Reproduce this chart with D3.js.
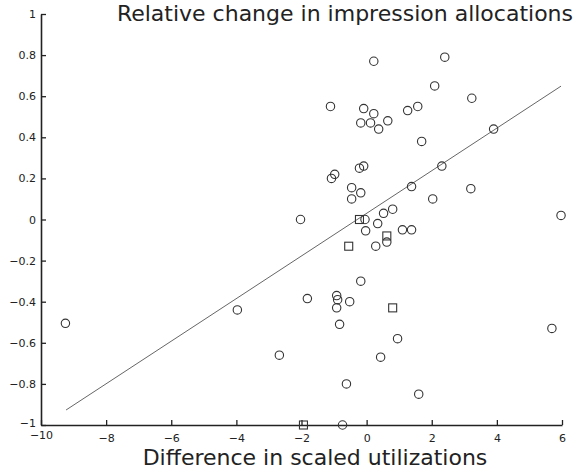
<!DOCTYPE html>
<html>
<head>
<meta charset="utf-8">
<script src="https://cdn.jsdelivr.net/npm/d3@7"></script>
<style>
  body { margin: 0; background: #fff; }
  text { font-family: "DejaVu Sans", sans-serif; }
</style>
</head>
<body>
<div id="chart"></div>
<script>
// data
var circleX = [-9.25, -3.97, -2.68, -2.03, -1.82, -1.11, -1.08, -0.98, -0.92, -0.89,
  -0.92, -0.83, -0.74, -0.62, -0.52, -0.46, -0.46, -0.22, -0.18, -0.18,
  -0.18, -0.09, -0.09, -0.05, -0.03, 0.12, 0.22, 0.22, 0.28, 0.34,
  0.37, 0.43, 0.52, 0.62, 0.65, 0.80, 0.95, 1.10, 1.26, 1.38,
  1.38, 1.57, 1.60, 1.69, 2.03, 2.09, 2.31, 2.40, 3.20, 3.23,
  3.90, 5.69, 5.97];
var circleY = [-0.505, -0.44, -0.66, 0.0, -0.385, 0.55, 0.20, 0.22, -0.37, -0.39,
  -0.43, -0.51, -1.0, -0.80, -0.40, 0.155, 0.10, 0.25, 0.13, 0.47,
  -0.30, 0.26, 0.54, 0.0, -0.055, 0.47, 0.77, 0.515, -0.13, -0.02,
  0.44, -0.67, 0.03, -0.11, 0.48, 0.05, -0.58, -0.05, 0.53, 0.16,
  -0.05, 0.55, -0.85, 0.38, 0.10, 0.65, 0.26, 0.79, 0.15, 0.59,
  0.44, -0.53, 0.02];
var squareX = [-1.94, -0.55, -0.22, 0.62, 0.80];
var squareY = [-1.0, -0.13, 0.0, -0.08, -0.43];

// fitted line end points
var lineX = [-9.23, 5.97];
var lineY = [-0.927, 0.649];

var xTicks = [-10, -8, -6, -4, -2, 0, 2, 4, 6];
var yTicks = [-1, -0.8, -0.6, -0.4, -0.2, 0, 0.2, 0.4, 0.6, 0.8, 1];

var svgWidth = 575;
var svgHeight = 472;
var margin = { top: 14, right: 13, bottom: 47, left: 41 };
var chartWidth = svgWidth - margin.left - margin.right;
var chartHeight = svgHeight - margin.top - margin.bottom;

var svg = d3.select("#chart")
  .append("svg")
  .attr("width", svgWidth)
  .attr("height", svgHeight);

var chartGroup = svg.append("g")
  .attr("transform", `translate(${margin.left}, ${margin.top})`);

var xScale = d3.scaleLinear().domain([-10, 6]).range([0, chartWidth]);
var yScale = d3.scaleLinear().domain([-1, 1]).range([chartHeight, 0]);

var fmt = function(d) { return d3.format("")(d).replace("-", "\u2212"); };

// axes, ticks point inward
var xAxis = d3.axisBottom(xScale).tickValues(xTicks).tickSizeInner(-5).tickSizeOuter(0)
  .tickPadding(9).tickFormat(fmt);
var yAxis = d3.axisLeft(yScale).tickValues(yTicks).tickSizeInner(-5).tickSizeOuter(0)
  .tickPadding(5).tickFormat(fmt);

var gx = chartGroup.append("g")
  .attr("transform", `translate(0, ${chartHeight})`)
  .call(xAxis);
var gy = chartGroup.append("g").call(yAxis);

[gx, gy].forEach(function(g) {
  g.selectAll("path").attr("stroke", "#222").attr("stroke-width", 1.6);
  g.selectAll(".tick line").attr("stroke", "#222").attr("stroke-width", 1.3);
  g.selectAll("text").attr("fill", "#222").style("font-size", "11px")
    .style("font-family", "DejaVu Sans, sans-serif");
});
// lowest labels nudged like the original
gy.selectAll(".tick").filter(function(d) { return d === -1; }).select("text").attr("dy", "0.1em");
gx.selectAll(".tick").filter(function(d) { return d === -10; }).select("text").attr("dy", "0.45em");

// fit line
chartGroup.append("line")
  .attr("x1", xScale(lineX[0])).attr("y1", yScale(lineY[0]))
  .attr("x2", xScale(lineX[1])).attr("y2", yScale(lineY[1]))
  .attr("stroke", "#666").attr("stroke-width", 1);

// circles
var circleData = circleX.map(function(x, i) { return { x: x, y: circleY[i] }; });
chartGroup.selectAll("circle.pt")
  .data(circleData)
  .enter()
  .append("circle")
  .attr("class", "pt")
  .attr("cx", d => xScale(d.x))
  .attr("cy", d => yScale(d.y))
  .attr("r", 4.2)
  .attr("fill", "none")
  .attr("stroke", "#333")
  .attr("stroke-width", 1.1);

// squares
var squareData = squareX.map(function(x, i) { return { x: x, y: squareY[i] }; });
chartGroup.selectAll("rect.pt")
  .data(squareData)
  .enter()
  .append("rect")
  .attr("class", "pt")
  .attr("x", d => xScale(d.x) - 4)
  .attr("y", d => yScale(d.y) - 4)
  .attr("width", 8)
  .attr("height", 8)
  .attr("fill", "none")
  .attr("stroke", "#333")
  .attr("stroke-width", 1.1);

// title and x label
svg.append("text")
  .attr("text-anchor", "end")
  .attr("x", 573)
  .attr("y", 21)
  .style("font-size", "22px")
  .attr("fill", "#222")
  .text("Relative change in impression allocations");

svg.append("text")
  .attr("text-anchor", "middle")
  .attr("x", 315)
  .attr("y", 465)
  .style("font-size", "22px")
  .attr("fill", "#222")
  .text("Difference in scaled utilizations");
</script>
</body>
</html>
